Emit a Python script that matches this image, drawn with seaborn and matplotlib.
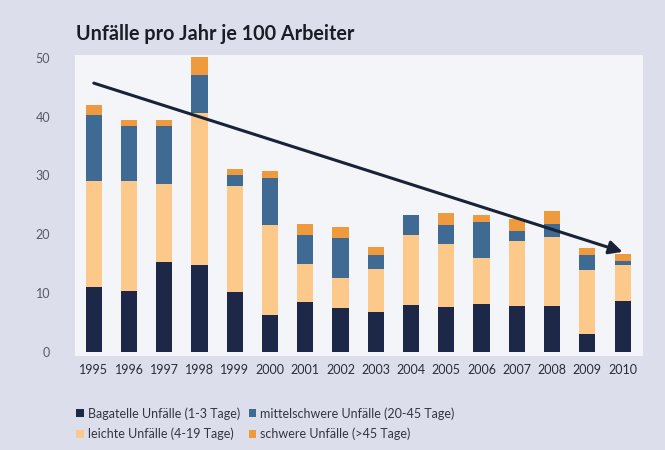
import numpy as np
import pandas as pd
import matplotlib
matplotlib.use("Agg")
import matplotlib.pyplot as plt
from matplotlib.patches import Patch
import seaborn as sns

years = ["1995", "1996", "1997", "1998", "1999", "2000", "2001", "2002",
         "2003", "2004", "2005", "2006", "2007", "2008", "2009", "2010"]
bagatelle = [11.1, 10.4, 15.2, 14.8, 10.1, 6.2, 8.5, 7.4, 6.7, 7.9, 7.6, 8.1, 7.8, 7.8, 3.1, 8.6]
leichte = [18.0, 18.7, 13.3, 25.8, 18.1, 15.3, 6.5, 5.2, 7.4, 11.9, 10.8, 7.8, 11.0, 11.8, 10.8, 6.2]
mittelschwere = [11.1, 9.3, 9.9, 6.5, 1.9, 8.0, 4.8, 6.7, 2.4, 3.4, 3.1, 6.1, 1.7, 2.2, 2.5, 0.6]
schwere = [1.7, 1.0, 1.0, 3.1, 1.0, 1.2, 2.0, 1.9, 1.4, 0.0, 2.1, 1.3, 2.1, 2.2, 1.3, 1.3]

series_names = ["Bagatelle Unfälle (1-3 Tage)", "leichte Unfälle (4-19 Tage)",
                "mittelschwere Unfälle (20-45 Tage)", "schwere Unfälle (>45 Tage)"]
colors = ["#1d2848", "#fdc98a", "#3f6a93", "#f09a3e"]
y_ticks = [0, 10, 20, 30, 40, 50]
title = "Unfälle pro Jahr je 100 Arbeiter"
trend_start = (0, 45.7)
trend_end = (15, 17.0)

sns.set_theme(style="white")
plt.rcParams["font.family"] = ["Lato", "DejaVu Sans"]

df = pd.DataFrame({"Jahr": years, "b": bagatelle, "l": leichte, "m": mittelschwere, "s": schwere})
cum = df[["b", "l", "m", "s"]].cumsum(axis=1)

fig = plt.figure(figsize=(6.65, 4.5), dpi=100, facecolor="#dcdfeb")
ax = fig.add_axes([0.113, 0.209, 0.854, 0.669])
ax.set_facecolor("#f4f5f9")

# draw cumulative stacks from top layer down so lower layers overlay
for col, c in zip(["s", "m", "l", "b"], colors[::-1]):
    sns.barplot(x=df["Jahr"], y=cum[col], order=years, color=c, saturation=1,
                width=0.46, ax=ax, linewidth=0)

ax.set_xlim(-0.53, 15.58)
ax.set_ylim(-0.7, 50.5)
ax.set_yticks(y_ticks)
ax.set_yticklabels([str(v) for v in y_ticks])
ax.set_xlabel("")
ax.set_ylabel("")
for s in ax.spines.values():
    s.set_visible(False)
ax.tick_params(axis="y", length=0, pad=18, labelsize=9, labelcolor="#555a66")
ax.tick_params(axis="x", length=0, pad=6, labelsize=9, labelcolor="#2a2d36")

ax.annotate("", xy=trend_end, xytext=trend_start,
            arrowprops=dict(arrowstyle="-|>", color="#1a2238", lw=2.2,
                            mutation_scale=20, shrinkA=0, shrinkB=0),
            annotation_clip=False)

fig.text(0.114, 0.924, title, fontsize=14.2, fontweight="bold", color="#1a1d26",
         va="center", ha="left")

handles = [Patch(facecolor=c, edgecolor="none") for c in colors]
fig.legend(handles, series_names, loc="upper left", bbox_to_anchor=(0.098, 0.12),
           ncol=2, frameon=False, fontsize=9, handlelength=0.6, handleheight=0.6,
           handletextpad=0.3, columnspacing=0.7, labelspacing=0.65,
           labelcolor="#333640")

fig.savefig("out.png", dpi=100, facecolor=fig.get_facecolor())
